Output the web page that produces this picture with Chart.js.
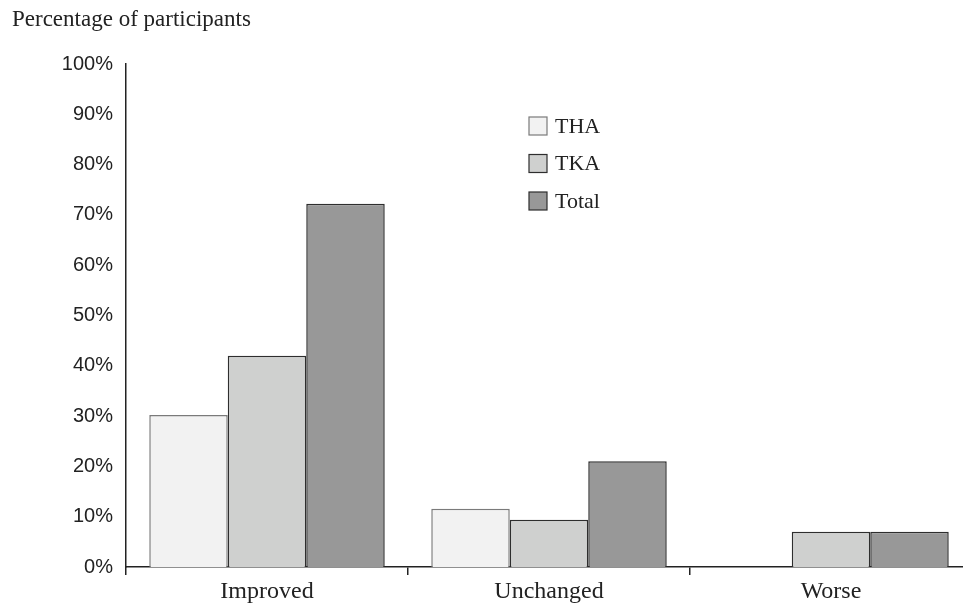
<!DOCTYPE html>
<html>
<head>
<meta charset="utf-8">
<script src="https://cdn.jsdelivr.net/npm/chart.js@4"></script>
<style>
  html, body { margin: 0; padding: 0; background: #fff; overflow: hidden; }
  #wrap { width: 980px; height: 606px; }
</style>
</head>
<body>
<div id="wrap"><canvas id="chart"></canvas></div>
<script>
// values (percent of participants)
const categories = ["Improved", "Unchanged", "Worse"];
const thaValues = [30.2, 11.6, 0];
const tkaValues = [42.0, 9.4, 7.0];
const totalValues = [72.2, 21.0, 7.0];
const yTicks = [0, 10, 20, 30, 40, 50, 60, 70, 80, 90, 100];

const serif = "'Liberation Serif', 'Times New Roman', serif";
const sans = "'Liberation Sans', Arial, sans-serif";

// axis title and legend box, drawn on the canvas
const extras = {
  id: "extras",
  afterDraw(chart) {
    const ctx = chart.ctx;
    ctx.save();
    ctx.fillStyle = "#222";
    ctx.font = "23px " + serif;
    ctx.textBaseline = "middle";
    ctx.textAlign = "left";
    ctx.fillText("Percentage of participants", 12, 20);

    ctx.font = "22px " + serif;
    chart.data.datasets.forEach((ds, i) => {
      const y = 126 + i * 37.5;
      ctx.fillStyle = ds.backgroundColor;
      ctx.fillRect(529, y - 9, 18, 18);
      ctx.strokeStyle = ds.borderColor;
      ctx.lineWidth = 1.2;
      ctx.strokeRect(529, y - 9, 18, 18);
      ctx.fillStyle = "#222";
      ctx.fillText(ds.label, 555, y + 1);
    });
    ctx.restore();
  }
};

new Chart(document.getElementById("chart"), {
  type: "bar",
  data: {
    labels: categories,
    datasets: [
      { label: "THA", data: thaValues, backgroundColor: "#f2f2f2", borderColor: "#7a7a7a", borderWidth: 1.5 },
      { label: "TKA", data: tkaValues, backgroundColor: "#cfd0cf", borderColor: "#2e2e2e", borderWidth: 1.5 },
      { label: "Total", data: totalValues, backgroundColor: "#989898", borderColor: "#2e2e2e", borderWidth: 1.5 }
    ]
  },
  options: {
    responsive: true,
    maintainAspectRatio: false,
    animation: false,
    layout: { padding: { top: 64, right: 8, left: 0, bottom: 0 } },
    datasets: { bar: { categoryPercentage: 0.835, barPercentage: 1 } },
    plugins: {
      legend: { display: false },
      tooltip: { enabled: false }
    },
    scales: {
      x: {
        afterFit: (s) => { s.height = 39; },
        grid: {
          display: true,
          offset: true,
          drawOnChartArea: false,
          drawTicks: true,
          tickLength: 8,
          color: "#222",
          lineWidth: 1.5
        },
        border: { display: true, color: "#222", width: 1.5 },
        ticks: { color: "#222", font: { family: serif, size: 24 }, padding: 2 }
      },
      y: {
        min: 0,
        max: 100,
        afterFit: (s) => { s.width = 126; },
        afterBuildTicks: (s) => { s.ticks = yTicks.map((v) => ({ value: v })); },
        grid: { display: false, drawTicks: false },
        border: { display: true, color: "#222", width: 1.5 },
        ticks: {
          color: "#222",
          font: { family: sans, size: 20 },
          padding: 13,
          callback: (v) => v + "%"
        }
      }
    }
  },
  plugins: [extras]
});
</script>
</body>
</html>
